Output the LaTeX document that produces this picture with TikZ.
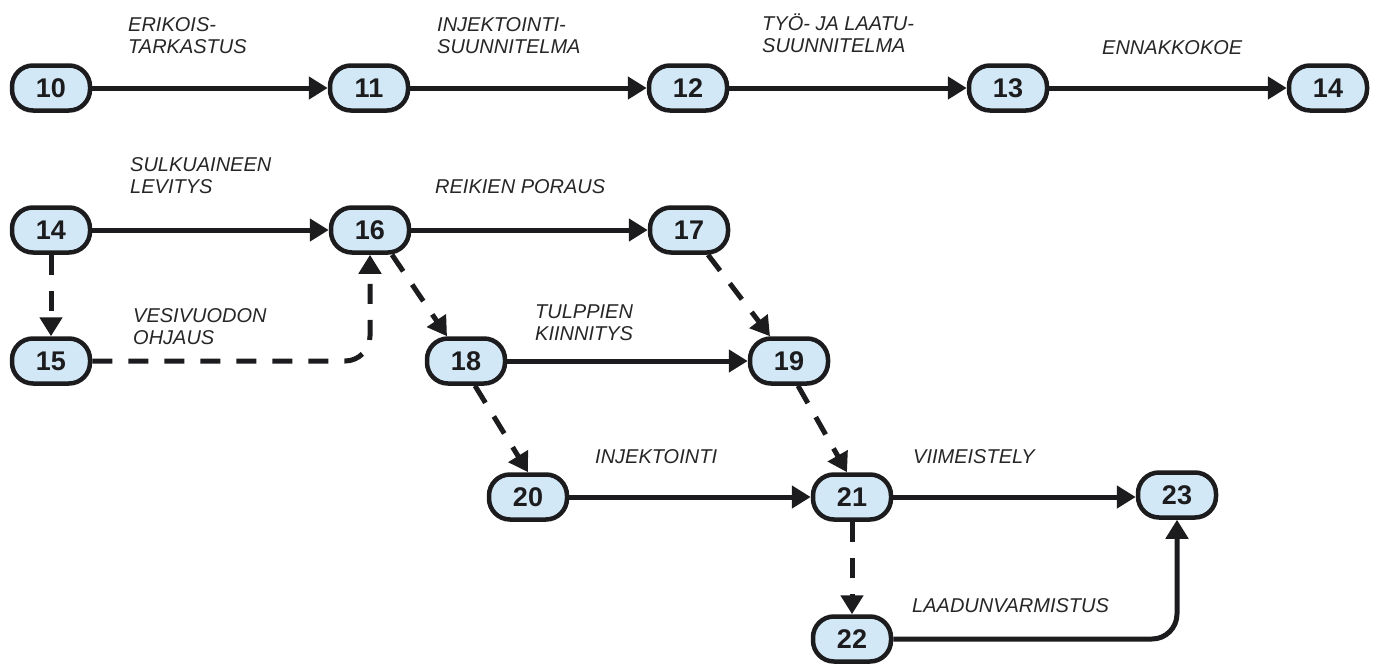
\documentclass[tikz,border=0pt]{standalone}
\usepackage{fontspec}
\setmainfont{Liberation Sans}
\usetikzlibrary{arrows.meta}
\definecolor{nodefill}{HTML}{D3E8F6}
\definecolor{ink}{HTML}{1C1C1E}
\definecolor{labelink}{HTML}{262626}
\begin{document}
\begin{tikzpicture}[x=1pt,y=-1pt,
  evt/.style={draw=ink, line width=4.5pt, fill=nodefill, rounded corners=21pt,
    minimum width=78pt, minimum height=45pt, inner sep=0pt,
    font=\fontsize{27}{27}\selectfont\bfseries, text=ink},
  act/.style={line width=5pt, draw=ink, -{Triangle[length=19pt,width=22pt]}},
  dum/.style={act, dash pattern=on 20pt off 16pt},
  lbl/.style={anchor=base west, align=left, inner sep=0pt,
    font=\fontsize{20}{21.5}\selectfont\itshape, text=labelink}]
\useasboundingbox (0,0) rectangle (1377,664);
% nodes
\node[evt] (n10) at (51,88) {10};
\node[evt] (n11) at (369,88) {11};
\node[evt] (n12) at (688,88) {12};
\node[evt] (n13) at (1008,88) {13};
\node[evt] (n14) at (1328,88) {14};
\node[evt] (n14b) at (51,230) {14};
\node[evt] (n16) at (370,230) {16};
\node[evt] (n17) at (689,230) {17};
\node[evt] (n15) at (51,361) {15};
\node[evt] (n18) at (466,361) {18};
\node[evt] (n19) at (789,361) {19};
\node[evt] (n20) at (528,497) {20};
\node[evt] (n21) at (852,497) {21};
\node[evt] (n23) at (1177,495) {23};
\node[evt] (n22) at (852,639) {22};
% labels (anchored at baseline of last line)
\node[lbl] (l1) at (128,53) {ERIKOIS-\\TARKASTUS};
\node[lbl] (l2) at (437,53) {INJEKTOINTI-\\SUUNNITELMA};
\node[lbl] (l3) at (762,52) {TYÖ- JA LAATU-\\SUUNNITELMA};
\node[lbl] (l4) at (1102,54) {ENNAKKOKOE};
\node[lbl] (l5) at (130,193) {SULKUAINEEN\\LEVITYS};
\node[lbl] (l6) at (435,193) {REIKIEN PORAUS};
\node[lbl] (l7) at (133,344) {VESIVUODON\\OHJAUS};
\node[lbl] (l8) at (535,340) {TULPPIEN\\KIINNITYS};
\node[lbl] (l9) at (595,463) {INJEKTOINTI};
\node[lbl] (l10) at (913,463) {VIIMEISTELY};
\node[lbl] (l11) at (912,612) {LAADUNVARMISTUS};
% connectors
\draw[act] (n10) -- (n11);
\draw[act] (n11) -- (n12);
\draw[act] (n12) -- (n13);
\draw[act] (n13) -- (n14);
\draw[act] (n14b) -- (n16);
\draw[act] (n16) -- (n17);
\draw[dum] (n14b) -- (n15);
\draw[dum, rounded corners=25pt] (n15) -- (n15 -| n16) -- (n16);
\draw[dum] ([xshift=22pt]n16.south) -- ([xshift=-19pt]n18.north);
\draw[dum] ([xshift=19pt]n17.south) -- ([xshift=-19pt]n19.north);
\draw[act] (n18) -- (n19);
\draw[dum] ([xshift=9pt]n18.south) -- (n20.north);
\draw[dum] ([xshift=9pt]n19.south) -- ([xshift=-5pt]n21.north);
\draw[act] (n20) -- (n21);
\draw[act] (n21) -- (n21 -| n23.west);
\draw[dum] (n21) -- (n22);
\draw[act, rounded corners=25pt] (n22) -- (n22 -| n23) -- (n23);
\end{tikzpicture}
\end{document}
